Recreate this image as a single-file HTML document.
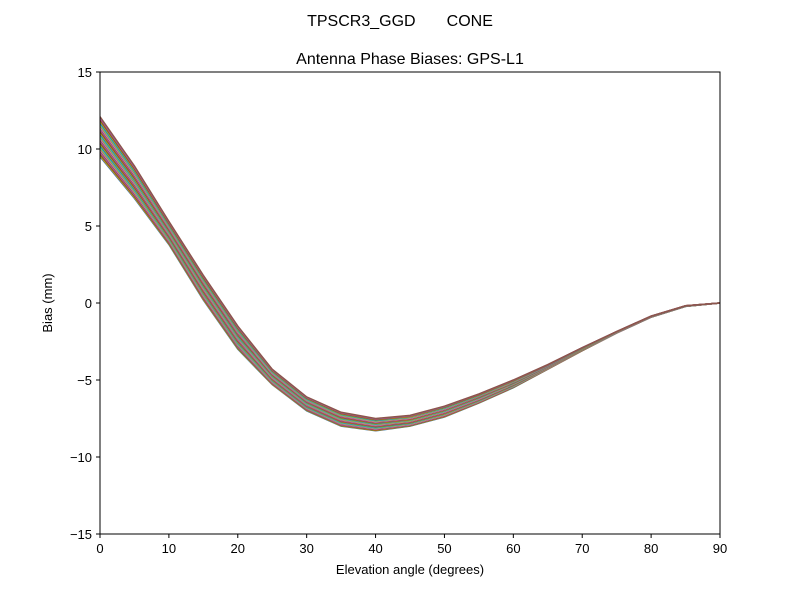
<!DOCTYPE html>
<html><head><meta charset="utf-8"><style>
body{margin:0;background:#fff;}
svg text{font-family:"Liberation Sans","DejaVu Sans",sans-serif;fill:#000;}
</style></head><body>
<svg id="s" width="800" height="600" xmlns="http://www.w3.org/2000/svg">
<rect width="800" height="600" fill="#fff"/>
<text x="400" y="26" font-size="16" text-anchor="middle" xml:space="preserve" style="white-space:pre">TPSCR3_GGD       CONE</text>
<text x="410" y="64" font-size="16" text-anchor="middle">Antenna Phase Biases: GPS-L1</text>
<g id="lines"></g>
<rect x="100" y="72" width="620" height="462" fill="none" stroke="#000" stroke-width="1"/>
<g id="ticks" font-size="13"></g>
<text x="410" y="574" font-size="13" text-anchor="middle">Elevation angle (degrees)</text>
<text x="0" y="0" font-size="13" text-anchor="middle" transform="translate(52,303) rotate(-90)">Bias (mm)</text>
</svg>
<script>
var NS="http://www.w3.org/2000/svg";
function X(e){return 100+e*620/90;}
function Y(v){return 303-v*15.4;}
var lo=[9.5,6.8,3.8,0.2,-3,-5.3,-7,-8,-8.3,-8,-7.4,-6.5,-5.5,-4.3,-3.1,-1.95,-0.92,-0.22,0];
var hi=[12.1,8.9,5.3,1.8,-1.5,-4.3,-6.1,-7.1,-7.5,-7.3,-6.7,-5.9,-5.0,-4.0,-2.9,-1.85,-0.85,-0.18,0];
var cols=["#1f77b4","#ff7f0e","#2ca02c","#d62728","#9467bd","#8c564b","#e377c2","#7f7f7f","#bcbd22","#17becf"];
var g=document.getElementById("lines");
var N=36;
for(var k=0;k<N;k++){
  var t=k/(N-1);
  var pts=[];
  for(var i=0;i<19;i++){
    var v=lo[i]+(hi[i]-lo[i])*t;
    pts.push(X(i*5).toFixed(1)+","+Y(v).toFixed(1));
  }
  var p=document.createElementNS(NS,"polyline");
  p.setAttribute("points",pts.join(" "));
  p.setAttribute("fill","none");
  p.setAttribute("stroke",cols[k%10]);
  p.setAttribute("stroke-width","1.5");
  g.appendChild(p);
}
var tk=document.getElementById("ticks");
function add(tag,a,txt){var e=document.createElementNS(NS,tag);for(var n in a)e.setAttribute(n,a[n]);if(txt!==undefined)e.textContent=txt;tk.appendChild(e);}
for(var e=0;e<=90;e+=10){
  add("line",{x1:X(e),x2:X(e),y1:534,y2:538,stroke:"#000"});
  add("text",{x:X(e),y:553,"text-anchor":"middle"},String(e));
}
for(var v=-15;v<=15;v+=5){
  add("line",{x1:96,x2:100,y1:Y(v),y2:Y(v),stroke:"#000"});
  add("text",{x:92,y:Y(v)+5,"text-anchor":"end"},(v<0?"\u2212"+(-v):String(v)));
}
</script>
</body></html>
